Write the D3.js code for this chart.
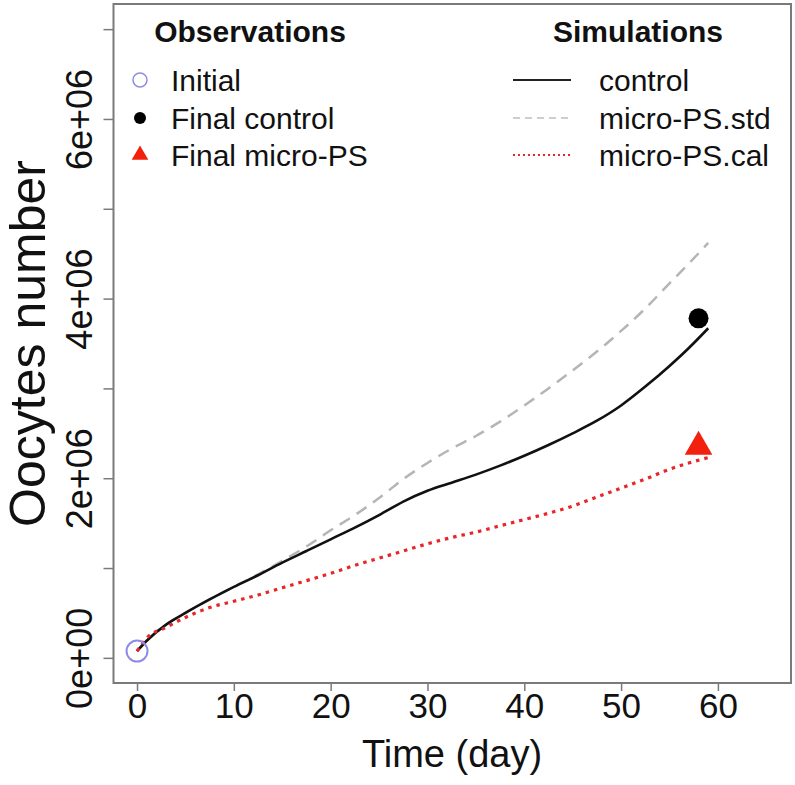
<!DOCTYPE html>
<html>
<head>
<meta charset="utf-8">
<script src="https://cdn.jsdelivr.net/npm/d3@7"></script>
<style>
  body { margin: 0; background: #fff; }
  svg { font-family: "Liberation Sans", Arial, Helvetica, sans-serif; }
</style>
</head>
<body>
<div id="graph"></div>
<script>
// Simulation time points (day)
const days = [0, 1, 3, 5, 7.5, 10, 12.5, 15, 17.5, 20, 22.5, 25, 27.5, 30, 32.5, 35, 37.5, 40, 42.5, 45, 47.5, 50, 52.5, 55, 57, 59];

// Simulated oocytes number (millions)
const control = [0.075, 0.19, 0.37, 0.50, 0.65, 0.79, 0.92, 1.06, 1.19, 1.32, 1.45, 1.59, 1.74, 1.86, 1.95, 2.04, 2.14, 2.25, 2.37, 2.50, 2.64, 2.81, 3.02, 3.25, 3.45, 3.67];
const microStd = [0.075, 0.19, 0.37, 0.50, 0.65, 0.79, 0.93, 1.08, 1.24, 1.42, 1.59, 1.78, 1.99, 2.17, 2.33, 2.47, 2.63, 2.81, 3.00, 3.20, 3.41, 3.64, 3.89, 4.17, 4.39, 4.62];
const microCal = [0.075, 0.22, 0.34, 0.45, 0.56, 0.63, 0.70, 0.78, 0.86, 0.94, 1.03, 1.11, 1.19, 1.27, 1.34, 1.40, 1.47, 1.54, 1.61, 1.69, 1.79, 1.89, 1.99, 2.10, 2.17, 2.23];

// Observations: [day, oocytes number]
const obsInitial = [0, 0.075e6];
const obsFinalControl = [58, 3.78e6];
const obsFinalMicro = [58, 2.35e6];

// Axis ticks
const xTicks = [0, 10, 20, 30, 40, 50, 60];
const yTicks = [0, 1e6, 2e6, 3e6, 4e6, 5e6, 6e6, 7e6];
const yTickLabels = {0: "0e+00", 2000000: "2e+06", 4000000: "4e+06", 6000000: "6e+06"};

const obsLegend = ["Initial", "Final control", "Final micro-PS"];
const simLegend = ["control", "micro-PS.std", "micro-PS.cal"];

const width = 795, height = 785;
const frame = {left: 113.5, right: 791, top: 4, bottom: 683};

const svg = d3.select("#graph").append("svg")
    .attr("width", width)
    .attr("height", height);

const x = d3.scaleLinear().domain([-2.43, 67.55]).range([frame.left, frame.right]);
const y = d3.scaleLinear().domain([-0.28e6, 7.28e6]).range([frame.bottom, frame.top]);

// Frame
svg.append("rect")
    .attr("x", frame.left).attr("y", frame.top)
    .attr("width", frame.right - frame.left).attr("height", frame.bottom - frame.top)
    .attr("fill", "none").attr("stroke", "#7a7a7a").attr("stroke-width", 2);

// X axis
const xAxis = svg.append("g")
    .attr("transform", `translate(0, ${frame.bottom})`)
    .call(d3.axisBottom(x).tickValues(xTicks).tickSize(8).tickFormat(d => d));
xAxis.select(".domain").remove();
xAxis.selectAll(".tick line").attr("stroke", "#7a7a7a").attr("stroke-width", 1.5);
xAxis.selectAll(".tick text")
    .attr("font-size", 35).attr("fill", "#111")
    .attr("y", 35).attr("dy", 0);

// Y axis
const yAxis = svg.append("g")
    .attr("transform", `translate(${frame.left}, 0)`)
    .call(d3.axisLeft(y).tickValues(yTicks).tickSize(10).tickFormat(d => yTickLabels[d] || ""));
yAxis.select(".domain").remove();
yAxis.selectAll(".tick line").attr("stroke", "#7a7a7a").attr("stroke-width", 1.5);
yAxis.selectAll(".tick text")
    .attr("font-size", 36).attr("fill", "#111")
    .attr("text-anchor", "middle")
    .attr("x", 0).attr("dy", 0)
    .attr("transform", "translate(-22, 0) rotate(-90)");

// Axis titles
svg.append("text")
    .attr("x", 452).attr("y", 767)
    .attr("text-anchor", "middle")
    .attr("font-size", 38).attr("fill", "#111")
    .text("Time (day)");

svg.append("text")
    .attr("transform", `translate(45, ${(frame.top + frame.bottom) / 2}) rotate(-90)`)
    .attr("text-anchor", "middle")
    .attr("font-size", 50).attr("fill", "#111")
    .text("Oocytes number");

// Simulation lines
const line = d3.line()
    .x((d, i) => x(days[i]))
    .y(d => y(d * 1e6))
    .curve(d3.curveMonotoneX);

const plot = svg.append("g");

plot.append("path").datum(microStd)
    .attr("d", line).attr("fill", "none")
    .attr("stroke", "#b5b5b5").attr("stroke-width", 2.5)
    .attr("stroke-dasharray", "12,8");

plot.append("path").datum(control)
    .attr("d", line).attr("fill", "none")
    .attr("stroke", "#111").attr("stroke-width", 2.6);

plot.append("path").datum(microCal)
    .attr("d", line).attr("fill", "none")
    .attr("stroke", "#e8262a").attr("stroke-width", 3.2)
    .attr("stroke-dasharray", "3.5,5");

// Observations
plot.append("circle")
    .attr("cx", x(obsInitial[0])).attr("cy", y(obsInitial[1])).attr("r", 10.5)
    .attr("fill", "none").attr("stroke", "#8c8ce6").attr("stroke-width", 2);

plot.append("circle")
    .attr("cx", x(obsFinalControl[0])).attr("cy", y(obsFinalControl[1])).attr("r", 10)
    .attr("fill", "#000");

plot.append("path")
    .attr("d", d3.symbol().type(d3.symbolTriangle).size(330)())
    .attr("transform", `translate(${x(obsFinalMicro[0])}, ${y(obsFinalMicro[1])})`)
    .attr("fill", "#f2200e");

// Legends
const legend = svg.append("g").attr("font-size", 30).attr("fill", "#111");

legend.append("text")
    .attr("x", 250).attr("y", 42).attr("text-anchor", "middle")
    .attr("font-weight", "bold").text("Observations");
legend.append("text")
    .attr("x", 638).attr("y", 42).attr("text-anchor", "middle")
    .attr("font-weight", "bold").text("Simulations");

const rowY = [80, 118, 155];

obsLegend.forEach((name, i) => {
    legend.append("text").attr("x", 171).attr("y", rowY[i] + 11).text(name);
});
legend.append("circle").attr("cx", 140).attr("cy", rowY[0]).attr("r", 7)
    .attr("fill", "none").attr("stroke", "#8c8ce6").attr("stroke-width", 1.5);
legend.append("circle").attr("cx", 140).attr("cy", rowY[1]).attr("r", 6).attr("fill", "#000");
legend.append("path")
    .attr("d", d3.symbol().type(d3.symbolTriangle).size(120)())
    .attr("transform", `translate(140, ${rowY[2]})`)
    .attr("fill", "#f2200e");

const simStyles = [
    {stroke: "#222", dash: null, w: 2},
    {stroke: "#bdbdbd", dash: "7,5", w: 1.5},
    {stroke: "#e8262a", dash: "2,3", w: 2}
];
simLegend.forEach((name, i) => {
    legend.append("line")
        .attr("x1", 513).attr("x2", 571).attr("y1", rowY[i]).attr("y2", rowY[i])
        .attr("stroke", simStyles[i].stroke).attr("stroke-width", simStyles[i].w)
        .attr("stroke-dasharray", simStyles[i].dash);
    legend.append("text").attr("x", 599).attr("y", rowY[i] + 11).text(name);
});
</script>
</body>
</html>
